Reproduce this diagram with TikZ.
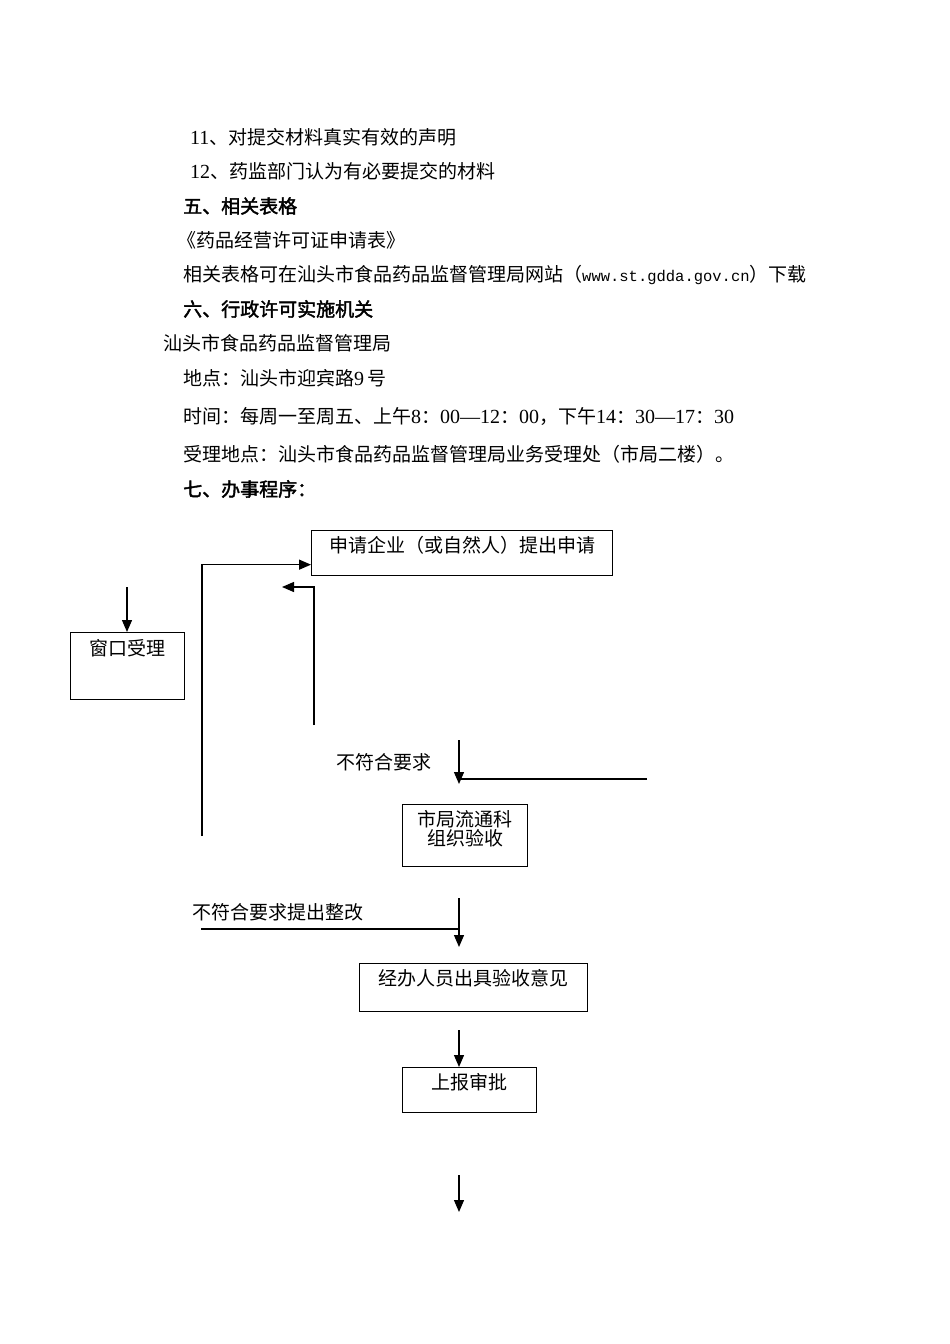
\documentclass[tikz,border=0pt]{standalone}
\usepackage{fontspec}
\setmainfont{Liberation Serif}
\setmonofont{Liberation Mono}
\newfontfamily\cjk{Noto Sans CJK SC}
\newfontfamily\cjkb[FakeBold=2]{Noto Sans CJK SC}
\usetikzlibrary{arrows.meta}
\newcommand\lat[1]{{\rmfamily\fontsize{20}{22}\selectfont #1}}
\tikzset{
  txt/.style={anchor=west, inner sep=0pt, font=\cjk\fontsize{19}{22}\selectfont},
  hd/.style={anchor=west, inner sep=0pt, font=\cjkb\fontsize{19}{22}\selectfont},
  box/.style={draw, line width=1.3pt, inner sep=0pt, anchor=north west},
  inlabel/.style={anchor=north, inner sep=0pt, align=center, font=\cjk\fontsize{19}{20}\selectfont},
  conn/.style={line width=1.3pt},
  arr/.style={line width=1.3pt, -{Triangle[length=12pt,width=10pt]}},
}
\begin{document}
\begin{tikzpicture}[x=1pt,y=-1pt]
\useasboundingbox (0,0) rectangle (950,1344);
% text block
\node[txt] (t1) at (190,137) {\lat{11}、对提交材料真实有效的声明};
\node[txt] (t2) at (190,171) {\lat{12}、药监部门认为有必要提交的材料};
\node[hd]  (t3) at (183,206) {五、相关表格};
\node[txt] (t4) at (177,240) {《药品经营许可证申请表》};
\node[txt] (t5) at (183,275) {相关表格可在汕头市食品药品监督管理局网站（{\ttfamily\fontsize{15.5}{20}\selectfont www.st.gdda.gov.cn}）下载};
\node[hd]  (t6) at (183,309) {六、行政许可实施机关};
\node[txt] (t7) at (163,343) {汕头市食品药品监督管理局};
\node[txt] (t8) at (183,378) {地点：汕头市迎宾路\lat{9\,}号};
\node[txt] (t9) at (183,416) {时间：每周一至周五、上午\lat{8}：\lat{00—12}：\lat{00}，下午\lat{14}：\lat{30—17}：\lat{30}};
\node[txt] (t10) at (183,454) {受理地点：汕头市食品药品监督管理局业务受理处（市局二楼）。};
\node[hd]  (t11) at (183,489) {七、办事程序：};

% flowchart boxes
\node[box, minimum width=301pt, minimum height=45pt,
      label={[inlabel, yshift=-6pt]north:申请企业（或自然人）提出申请}] (app) at (311,530) {};
\node[box, minimum width=114pt, minimum height=67pt,
      label={[inlabel, yshift=-7pt]north:窗口受理}] (win) at (70,632) {};
\node[box, minimum width=125pt, minimum height=62pt,
      label={[inlabel, yshift=-6pt]north:市局流通科\\[-1pt]组织验收}] (chk) at (402,804) {};
\node[box, minimum width=228pt, minimum height=48pt,
      label={[inlabel, yshift=-6pt]north:经办人员出具验收意见}] (op) at (359,963) {};
\node[box, minimum width=134pt, minimum height=45pt,
      label={[inlabel, yshift=-6pt]north:上报审批}] (rep) at (402,1067) {};

% labels
\node[txt] (l1) at (336,762) {不符合要求};
\node[txt] (l2) at (192,912) {不符合要求提出整改};

% connector end points
\coordinate (c1) at (127,587);
\coordinate (c2) at (202,836);
\coordinate (c3) at (314,725);
\coordinate (c4) at (282,587);
\coordinate (c5) at (459,740);
\coordinate (c6) at (459,784);
\coordinate (c7) at (647,779);
\coordinate (c8) at (459,779);
\coordinate (c9) at (201,929);
\coordinate (c10) at (459,929);
\coordinate (c11) at (459,898);
\coordinate (c12) at (459,947);
\coordinate (c13) at (459,1030);
\coordinate (c14) at (459,1175);
\coordinate (c15) at (459,1212);

% connectors
\draw[arr] (c1) -- (c1 |- win.north);
\draw[arr] (c2) |- ([yshift=-11.5pt]app.west);
\draw[arr] (c3) |- (c4);
\draw[arr] (c5) -- (c6);
\draw[conn] (c7) -- (c8);
\draw[conn] (c9) -- (c10);
\draw[arr] (c11) -- (c12);
\draw[arr] (c13) -- (c13 |- rep.north);
\draw[arr] (c14) -- (c15);
\end{tikzpicture}
\end{document}
